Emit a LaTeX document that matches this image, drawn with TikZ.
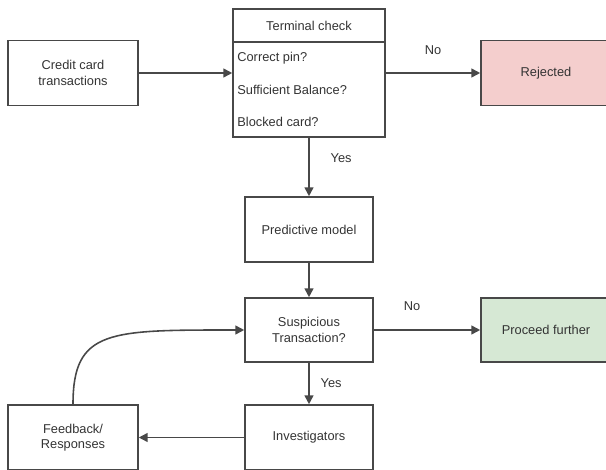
\documentclass[tikz,border=0pt]{standalone}
\usepackage{fontspec}
\setmainfont{Liberation Sans}
\usepackage{xcolor}
\usetikzlibrary{arrows.meta}
\definecolor{rejected}{RGB}{244,206,205}
\definecolor{proceed}{RGB}{214,232,212}
\definecolor{edge}{RGB}{72,72,72}

\begin{document}
\begin{tikzpicture}[x=0.02cm, y=-0.02cm,
            font=\fontsize{7.3}{8.8}\selectfont, text=black!80,
            box/.style={draw=edge, line width=0.9pt, align=center,
              minimum width=2.6cm, minimum height=1.3cm, inner sep=0pt},
            link/.style={draw=edge, line width=0.9pt,
              -{Triangle[length=5pt,width=5pt]}}]
            \useasboundingbox (0,0) rectangle (606,470);
            \clip (0,0) rectangle (606,470);

            \node[box] (credit) at (73,73) {Credit card\\transactions};
            \node[box, minimum width=3.04cm, minimum height=2.56cm] (term) at (309,73) {};
            \node (termhead) at (309,25.5) {Terminal check};
            \coordinate (split) at (309,42);
            \draw[edge, line width=0.9pt] (term.west |- split) -- (term.east |- split);
            \node[anchor=west, inner sep=0pt] (pin) at (237,58) {Correct pin?};
            \node[anchor=west, inner sep=0pt] (balance) at (237,90) {Sufficient Balance?};
            \node[anchor=west, inner sep=0pt] (blocked) at (237,122) {Blocked card?};
            \node[box, fill=rejected] (rejected) at (546,73) {Rejected};

            \node[box, minimum width=2.56cm] (pred) at (309,229.5) {Predictive model};
            \node[box, minimum width=2.56cm, minimum height=1.28cm] (susp) at (309,330) {Suspicious\\Transaction?};
            \node[box, fill=proceed, minimum height=1.28cm] (proceed) at (546,330) {Proceed further};
            \node[box, minimum width=2.56cm] (invest) at (309,437.5) {Investigators};
            \node[box] (feedback) at (73,437.5) {Feedback/\\Responses};

            \draw[link] (credit.east) -- (term.west);
            \draw[link] (term.east) -- node[above=0.24cm] {No} (rejected.west);
            \draw[link] (term.south) -- node[pos=0.35, right=0.3cm] {Yes} (pred.north);
            \draw[link] (pred.south) -- (susp.north);
            \draw[link] (susp.east) -- node[pos=0.36, above=0.26cm] {No} (proceed.west);
            \draw[link] (susp.south) -- node[right=0.1cm] {Yes} (invest.north);
            \draw[link] (invest.west) -- (feedback.east);
            \draw[link] (feedback.north) .. controls +(0,-75) and +(-135,0) .. (susp.west);
        \end{tikzpicture}
\end{document}
